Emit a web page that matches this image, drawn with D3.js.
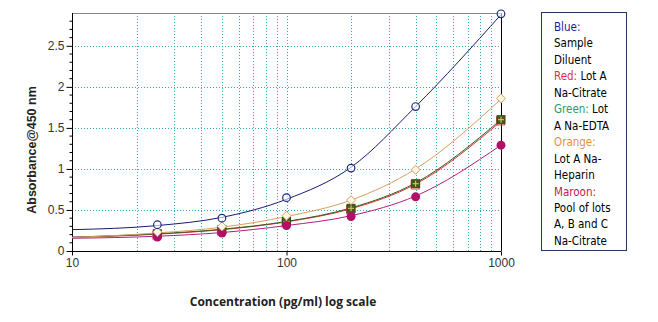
<!DOCTYPE html>
<html><head><meta charset="utf-8">
<script src="https://cdn.jsdelivr.net/npm/d3@7"></script>
<style>
body{margin:0;background:#fff;}
svg{display:block;}
</style></head>
<body>
<svg id="c" width="658" height="322"></svg>
<script>
// Data
const conc = [25, 50, 100, 200, 400, 1000];
const blue = [0.32, 0.40, 0.65, 1.01, 1.76, 2.89];
const orange = [0.23, 0.30, 0.43, 0.62, 0.99, 1.86];
const green = [0.21, 0.26, 0.36, 0.52, 0.82, 1.60];
const red = [0.20, 0.25, 0.35, 0.51, 0.81, 1.59];
const maroon = [0.17, 0.22, 0.31, 0.42, 0.66, 1.29];
// fitted curve readings
const fitConc = [10, 25, 50, 100, 200, 400, 1000];
const blueFit = [0.26, 0.31, 0.41, 0.63, 1.02, 1.76, 2.88];
const orangeFit = [0.165, 0.22, 0.29, 0.42, 0.62, 1.00, 1.85];
const greenFit = [0.17, 0.21, 0.265, 0.36, 0.525, 0.83, 1.60];
const redFit = [0.165, 0.205, 0.26, 0.355, 0.515, 0.815, 1.58];
const maroonFit = [0.155, 0.18, 0.225, 0.31, 0.43, 0.67, 1.29];
const xTicks = [10, 100, 1000];
const yTicks = [0, 0.5, 1, 1.5, 2, 2.5];
const legendLines = [
  [["Blue:", "#1c1c9c"]],
  [["Sample", "#000"]],
  [["Diluent", "#000"]],
  [["Red:", "#e0303a"], [" Lot A", "#000"]],
  [["Na-Citrate", "#000"]],
  [["Green:", "#2a9a6a"], [" Lot", "#000"]],
  [["A Na-EDTA", "#000"]],
  [["Orange:", "#e0904a"]],
  [["Lot A Na-", "#000"]],
  [["Heparin", "#000"]],
  [["Maroon:", "#c02050"]],
  [["Pool of lots", "#000"]],
  [["A, B and C", "#000"]],
  [["Na-Citrate", "#000"]]
];

const svg = d3.select("#c");
const L = 72, R = 501, T = 13, B = 251;
const x = d3.scaleLog().domain([10, 1000]).range([L, R]);
const y = d3.scaleLinear().domain([0, 2.9]).range([B, T]);
const grid = "#3aa8b8";

// grid lines
const vGrid = [];
[10, 100].forEach(d => { for (let k = 2; k <= 9; k++) vGrid.push(d * k); });
vGrid.push(100);
svg.append("g").selectAll("line").data(vGrid).join("line")
  .attr("x1", d => Math.round(x(d)) + 0.5).attr("x2", d => Math.round(x(d)) + 0.5)
  .attr("y1", T).attr("y2", B)
  .attr("stroke", grid).attr("stroke-width", 1).attr("stroke-dasharray", "1,2");
svg.append("g").selectAll("line").data(yTicks.filter(d => d > 0)).join("line")
  .attr("x1", L).attr("x2", R)
  .attr("y1", d => Math.round(y(d)) + 0.5).attr("y2", d => Math.round(y(d)) + 0.5)
  .attr("stroke", grid).attr("stroke-width", 1).attr("stroke-dasharray", "1,2");

// frame
svg.append("line").attr("x1", L).attr("x2", R).attr("y1", T + 0.5).attr("y2", T + 0.5).attr("stroke", "#888");
svg.append("line").attr("x1", R + 0.5).attr("x2", R + 0.5).attr("y1", T).attr("y2", B).attr("stroke", "#000");

// axes
const yAxis = d3.axisLeft(y).tickValues(yTicks).tickFormat(d3.format("")).tickSize(6).tickPadding(2);
const gy = svg.append("g").attr("transform", `translate(${L + 0.5},0)`).call(yAxis);
gy.select(".domain").remove();
gy.append("line").attr("x1", 0).attr("x2", 0).attr("y1", T).attr("y2", B).attr("stroke", "#000");
const minor = d3.range(0, 29).map(i => i / 10).filter(v => yTicks.indexOf(v) < 0);
gy.selectAll(".minor").data(minor).join("line").attr("class", "minor")
  .attr("x1", -3).attr("x2", 0).attr("y1", d => y(d)).attr("y2", d => y(d)).attr("stroke", "#000");
gy.selectAll("text").attr("font-family", "Liberation Sans, Arial, sans-serif").attr("font-size", 12).attr("fill", "#333");

const xAxis = d3.axisBottom(x).tickValues(xTicks).tickFormat(d3.format("")).tickSize(4).tickPadding(3);
const gx = svg.append("g").attr("transform", `translate(0,${B + 0.5})`).call(xAxis);
gx.select(".domain").attr("d", `M${L},0H${R}`);
gx.selectAll("text").attr("font-family", "Liberation Sans, Arial, sans-serif").attr("font-size", 12).attr("fill", "#333");

// curves
const line = d3.line().x(d => x(d[0])).y(d => y(d[1])).curve(d3.curveMonotoneX);
const series = [
  {fit: maroonFit, pts: maroon, col: "#b0207a"},
  {fit: redFit, pts: red, col: "#e03030"},
  {fit: greenFit, pts: green, col: "#3a5a20"},
  {fit: orangeFit, pts: orange, col: "#d4a060"},
  {fit: blueFit, pts: blue, col: "#1a1a70"}
];
series.forEach(s => {
  svg.append("path").datum(fitConc.map((c, i) => [c, s.fit[i]]))
    .attr("d", line).attr("fill", "none").attr("stroke", s.col).attr("stroke-width", 1);
});

// markers
const P = (arr) => conc.map((c, i) => [x(c), y(arr[i])]);
// red squares
svg.append("g").selectAll("rect").data(P(red)).join("rect")
  .attr("x", d => d[0] - 4.5).attr("y", d => d[1] - 3.5).attr("width", 8).attr("height", 8)
  .attr("fill", "none").attr("stroke", "#e05050").attr("stroke-width", 1);
// green squares with plus
const gg = svg.append("g").selectAll("g").data(P(green)).join("g").attr("transform", d => `translate(${d[0]},${d[1]})`);
gg.append("rect").attr("x", -4).attr("y", -4).attr("width", 8).attr("height", 8).attr("fill", "#4a5a18").attr("stroke", "#3a4a10");
gg.append("path").attr("d", "M-3,0H3M0,-3V3").attr("stroke", "#d8d070").attr("stroke-width", 1);
// maroon filled circles
svg.append("g").selectAll("circle").data(P(maroon)).join("circle")
  .attr("cx", d => d[0]).attr("cy", d => d[1]).attr("r", 4.5).attr("fill", "#b0106a");
// orange diamonds
svg.append("g").selectAll("path").data(P(orange)).join("path")
  .attr("d", d => `M${d[0]},${d[1] - 4.5}L${d[0] + 4.5},${d[1]}L${d[0]},${d[1] + 4.5}L${d[0] - 4.5},${d[1]}Z`)
  .attr("fill", "#fff8e8").attr("stroke", "#d4a060").attr("stroke-width", 1);
// blue open circles
svg.append("g").selectAll("circle").data(P(blue)).join("circle")
  .attr("cx", d => d[0]).attr("cy", d => d[1]).attr("r", 3.8)
  .attr("fill", "#fff").attr("fill-opacity", 0.6).attr("stroke", "#1a2a80").attr("stroke-width", 1.2);

// axis titles
svg.append("text").attr("transform", "translate(36,150) rotate(-90)").attr("text-anchor", "middle")
  .attr("font-family", "Liberation Sans, Arial, sans-serif").attr("font-weight", "bold").attr("font-size", 12.5)
  .attr("fill", "#222").text("Absorbance@450 nm");
svg.append("text").attr("x", 283).attr("y", 306).attr("text-anchor", "middle")
  .attr("font-family", "Open Sans, sans-serif").attr("font-weight", "bold").attr("font-size", 12)
  .attr("fill", "#222").text("Concentration (pg/ml) log scale");

// legend
svg.append("rect").attr("x", 541.5).attr("y", 12.5).attr("width", 85).attr("height", 238)
  .attr("fill", "#fff").attr("stroke", "#1f3a58").attr("stroke-width", 1);
const lg = svg.append("g");
legendLines.forEach((parts, i) => {
  const t = lg.append("text").attr("x", 554).attr("y", 31 + i * 16.45)
    .attr("font-family", "DejaVu Sans Condensed, DejaVu Sans, sans-serif").attr("font-size", 11.5);
  parts.forEach(p => t.append("tspan").attr("fill", p[1]).text(p[0]));
});
</script>
</body></html>
